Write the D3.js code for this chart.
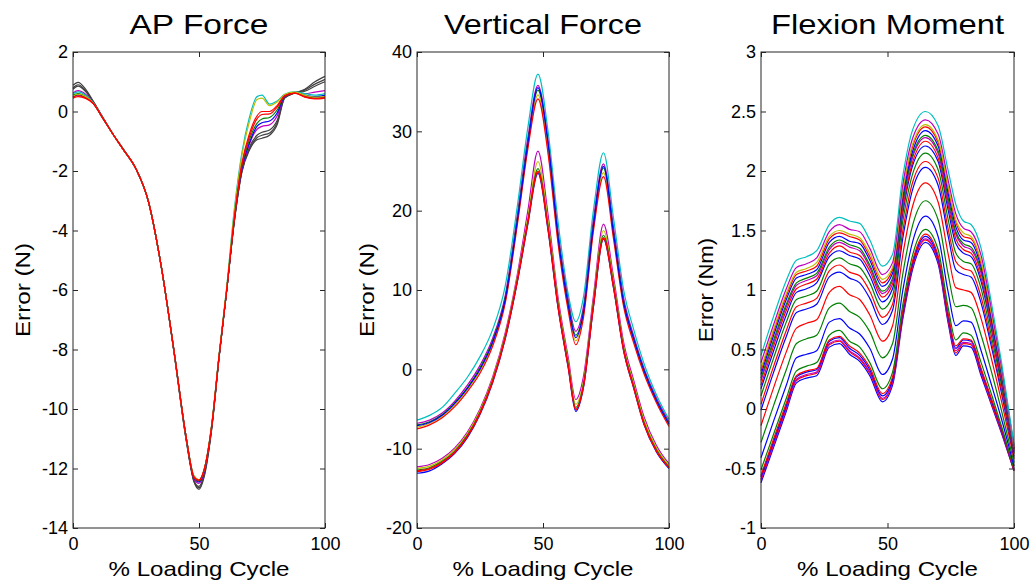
<!DOCTYPE html>
<html>
<head>
<meta charset="utf-8">
<script src="https://cdn.jsdelivr.net/npm/d3@7"></script>
<style>
  body { margin: 0; background: #fff; }
  text { font-family: "Liberation Sans", Arial, sans-serif; fill: #000; }
</style>
</head>
<body>
<svg id="fig" width="1032" height="580"></svg>
<script>
// ---- data ----
var titles = ["AP Force", "Vertical Force", "Flexion Moment"];
var yLabels = ["Error (N)", "Error (N)", "Error (Nm)"];
var xTicks = [0, 50, 100];

var apTicks = [2, 0, -2, -4, -6, -8, -10, -12, -14];
var vfTicks = [40, 30, 20, 10, 0, -10, -20];
var fmTicks = [3, 2.5, 2, 1.5, 1, 0.5, 0, -0.5, -1];

// AP force: % cycle positions and the error curves
var apX = [0, 2, 5, 8, 12, 16, 20, 25, 30, 35, 40, 45, 48, 50, 52, 55, 58, 61, 64, 67, 70, 73, 75, 78, 81, 84, 88, 92, 96, 100];
var apLines = [
  [0.88, 0.98, 0.75, 0.35, -0.22, -0.78, -1.28, -1.93, -3.05, -5.2, -8.05, -11.1, -12.45, -12.7, -12.3, -10.7, -8.25, -6.0, -3.7, -2.05, -1.3, -0.95, -0.9, -0.8, -0.45, 0.45, 0.62, 0.75, 1.0, 1.18],
  [0.8, 0.9, 0.7, 0.33, -0.23, -0.78, -1.28, -1.93, -3.05, -5.2, -8.04, -11.08, -12.42, -12.65, -12.25, -10.68, -8.23, -6.0, -3.7, -2.02, -1.25, -0.88, -0.8, -0.72, -0.38, 0.46, 0.62, 0.72, 0.92, 1.08],
  [0.75, 0.85, 0.67, 0.32, -0.23, -0.78, -1.28, -1.93, -3.05, -5.2, -8.03, -11.05, -12.4, -12.6, -12.2, -10.65, -8.22, -6.0, -3.7, -2.0, -1.2, -0.8, -0.7, -0.62, -0.3, 0.48, 0.63, 0.68, 0.85, 1.0],
  [0.62, 0.7, 0.58, 0.3, -0.24, -0.78, -1.28, -1.93, -3.05, -5.2, -8.0, -11.0, -12.35, -12.5, -12.15, -10.6, -8.2, -6.0, -3.65, -1.95, -1.1, -0.6, -0.5, -0.45, -0.15, 0.5, 0.63, 0.6, 0.65, 0.7],
  [0.5, 0.56, 0.48, 0.28, -0.25, -0.78, -1.28, -1.93, -3.05, -5.2, -8.0, -11.0, -12.3, -12.45, -12.1, -10.6, -8.2, -6.0, -3.6, -1.9, -1.05, -0.5, -0.38, -0.32, -0.05, 0.52, 0.64, 0.55, 0.5, 0.55],
  [0.55, 0.6, 0.5, 0.28, -0.25, -0.78, -1.28, -1.93, -3.05, -5.2, -8.0, -11.0, -12.3, -12.42, -12.08, -10.6, -8.2, -6.0, -3.6, -1.85, -0.95, -0.4, -0.25, -0.2, 0.05, 0.52, 0.63, 0.5, 0.45, 0.5],
  [0.6, 0.66, 0.55, 0.3, -0.24, -0.78, -1.28, -1.93, -3.05, -5.2, -8.0, -11.0, -12.25, -12.38, -12.05, -10.55, -8.15, -5.9, -3.3, -1.4, -0.2, 0.5, 0.55, 0.25, 0.35, 0.58, 0.66, 0.6, 0.55, 0.6],
  [0.52, 0.58, 0.5, 0.28, -0.25, -0.78, -1.28, -1.93, -3.05, -5.2, -8.0, -11.0, -12.25, -12.38, -12.05, -10.55, -8.15, -5.92, -3.4, -1.5, -0.35, 0.4, 0.45, 0.2, 0.32, 0.57, 0.65, 0.55, 0.48, 0.5],
  [0.48, 0.53, 0.46, 0.27, -0.25, -0.78, -1.28, -1.93, -3.05, -5.2, -8.0, -11.0, -12.28, -12.4, -12.06, -10.6, -8.2, -6.0, -3.6, -1.75, -0.75, -0.15, 0.0, 0.0, 0.2, 0.53, 0.62, 0.5, 0.44, 0.48],
  [0.45, 0.5, 0.44, 0.27, -0.25, -0.78, -1.28, -1.93, -3.05, -5.2, -8.0, -11.0, -12.3, -12.4, -12.05, -10.6, -8.2, -6.0, -3.6, -1.8, -0.85, -0.25, -0.1, -0.08, 0.15, 0.52, 0.62, 0.48, 0.42, 0.45]
];

// Vertical force: upper group then lower group
var vfX = [0, 5, 10, 15, 20, 25, 30, 35, 40, 44, 48, 52, 56, 60, 63, 66, 70, 74, 78, 82, 86, 90, 95, 100];
var vfLines = [
  [-6.4, -5.8, -4.8, -3.0, -1.0, 1.6, 5.0, 10.5, 21.0, 30.5, 37.2, 30.0, 18.5, 9.5, 6.0, 9.0, 20.0, 27.3, 19.0, 10.0, 5.0, 0.8, -3.2, -6.3],
  [-6.8, -6.4, -5.5, -4.0, -2.0, 0.5, 3.9, 9.3, 19.8, 29.2, 35.8, 28.8, 17.2, 8.8, 4.8, 7.8, 18.8, 25.9, 17.8, 9.0, 4.2, 0.2, -3.6, -6.6],
  [-7.0, -6.6, -5.7, -4.2, -2.3, 0.2, 3.6, 9.0, 19.5, 28.7, 35.2, 28.3, 16.8, 8.4, 4.3, 7.3, 18.3, 25.4, 17.3, 8.6, 3.9, 0.0, -3.8, -6.8],
  [-7.3, -6.8, -5.9, -4.5, -2.6, -0.2, 3.2, 8.6, 19.0, 28.2, 34.6, 27.6, 16.2, 7.8, 3.6, 6.8, 17.8, 24.8, 16.8, 8.2, 3.6, -0.3, -4.0, -7.0],
  [-7.5, -7.0, -6.1, -4.7, -2.8, -0.5, 2.9, 8.3, 18.6, 27.8, 34.1, 27.2, 15.8, 7.4, 3.1, 6.4, 17.4, 24.3, 16.4, 7.9, 3.3, -0.5, -4.2, -7.2],
  [-7.1, -6.7, -5.8, -4.3, -2.4, 0.0, 3.4, 8.8, 19.2, 28.5, 35.5, 28.5, 16.6, 8.1, 4.0, 7.1, 18.1, 25.6, 17.1, 8.4, 3.8, -0.1, -3.9, -6.9],
  [-12.3, -12.0, -11.2, -9.9, -7.9, -5.0, -1.0, 4.6, 12.3, 20.0, 27.5, 19.5, 9.0, 1.5, -3.8, -1.0, 9.2, 18.3, 11.6, 3.4, -1.4, -5.9, -9.6, -11.9],
  [-12.5, -12.2, -11.4, -10.1, -8.1, -5.2, -1.2, 4.3, 11.9, 19.2, 26.2, 18.7, 8.5, 1.0, -4.4, -1.6, 8.6, 17.5, 11.0, 2.9, -1.8, -6.3, -9.9, -12.1],
  [-12.7, -12.4, -11.6, -10.3, -8.3, -5.4, -1.4, 4.1, 11.6, 18.7, 25.3, 18.0, 8.1, 0.6, -4.8, -2.0, 8.2, 16.9, 10.6, 2.6, -2.1, -6.6, -10.1, -12.3],
  [-13.1, -12.8, -11.9, -10.6, -8.6, -5.7, -1.7, 3.8, 11.3, 18.3, 24.7, 17.5, 7.7, 0.2, -5.3, -2.4, 7.8, 16.4, 10.2, 2.3, -2.4, -6.9, -10.4, -12.5],
  [-12.9, -12.6, -11.8, -10.5, -8.5, -5.6, -1.6, 3.9, 11.4, 18.5, 25.0, 17.8, 7.9, 0.4, -5.0, -2.2, 8.0, 16.6, 10.4, 2.4, -2.3, -6.8, -10.3, -12.4],
  [-12.8, -12.5, -11.7, -10.4, -8.4, -5.5, -1.5, 4.0, 11.5, 18.6, 24.9, 17.7, 7.8, 0.3, -5.1, -2.3, 7.9, 16.5, 10.3, 2.4, -2.3, -6.8, -10.3, -12.4]
];

// Flexion moment: from lowest curve to highest
var fmX = [0, 5, 10, 14, 18, 22, 27, 31, 35, 39, 43, 48, 52, 56, 60, 65, 70, 74, 77, 80, 83, 87, 91, 95, 100];
var fmLines = [
  [-0.62, -0.32, -0.02, 0.22, 0.26, 0.28, 0.52, 0.55, 0.46, 0.40, 0.28, 0.06, 0.20, 0.75, 1.18, 1.40, 1.22, 0.72, 0.45, 0.53, 0.52, 0.28, 0.04, -0.20, -0.52],
  [-0.60, -0.30, 0.00, 0.24, 0.28, 0.30, 0.54, 0.57, 0.48, 0.42, 0.30, 0.08, 0.22, 0.77, 1.20, 1.42, 1.24, 0.74, 0.47, 0.55, 0.54, 0.30, 0.05, -0.19, -0.52],
  [-0.59, -0.29, 0.01, 0.25, 0.29, 0.31, 0.55, 0.58, 0.49, 0.43, 0.31, 0.09, 0.23, 0.79, 1.22, 1.43, 1.25, 0.76, 0.49, 0.56, 0.55, 0.31, 0.07, -0.18, -0.51],
  [-0.57, -0.27, 0.03, 0.27, 0.31, 0.33, 0.57, 0.60, 0.51, 0.45, 0.33, 0.11, 0.25, 0.80, 1.23, 1.45, 1.27, 0.78, 0.51, 0.58, 0.57, 0.33, 0.08, -0.17, -0.51],
  [-0.56, -0.25, 0.05, 0.28, 0.32, 0.34, 0.58, 0.61, 0.53, 0.47, 0.35, 0.13, 0.27, 0.82, 1.25, 1.47, 1.29, 0.80, 0.53, 0.59, 0.58, 0.34, 0.09, -0.16, -0.51],
  [-0.51, -0.21, 0.09, 0.32, 0.36, 0.39, 0.62, 0.66, 0.57, 0.52, 0.39, 0.17, 0.31, 0.87, 1.30, 1.51, 1.34, 0.85, 0.58, 0.64, 0.62, 0.39, 0.13, -0.14, -0.50],
  [-0.41, -0.10, 0.20, 0.43, 0.46, 0.49, 0.73, 0.76, 0.68, 0.63, 0.51, 0.29, 0.42, 0.99, 1.41, 1.62, 1.45, 0.98, 0.70, 0.74, 0.73, 0.49, 0.21, -0.08, -0.48],
  [-0.28, 0.03, 0.33, 0.55, 0.59, 0.62, 0.85, 0.89, 0.82, 0.77, 0.65, 0.43, 0.55, 1.13, 1.55, 1.75, 1.59, 1.13, 0.86, 0.87, 0.85, 0.62, 0.32, -0.01, -0.45],
  [-0.14, 0.18, 0.48, 0.68, 0.72, 0.75, 0.98, 1.03, 0.96, 0.92, 0.79, 0.57, 0.70, 1.29, 1.71, 1.90, 1.74, 1.30, 1.02, 1.00, 0.98, 0.76, 0.43, 0.07, -0.42],
  [-0.01, 0.31, 0.61, 0.81, 0.84, 0.88, 1.11, 1.15, 1.10, 1.06, 0.93, 0.71, 0.83, 1.43, 1.85, 2.03, 1.88, 1.45, 1.17, 1.13, 1.11, 0.89, 0.53, 0.14, -0.40],
  [0.04, 0.36, 0.66, 0.86, 0.89, 0.93, 1.16, 1.21, 1.15, 1.12, 0.99, 0.77, 0.88, 1.49, 1.91, 2.08, 1.94, 1.51, 1.24, 1.18, 1.16, 0.94, 0.57, 0.17, -0.38],
  [0.11, 0.43, 0.73, 0.92, 0.95, 0.99, 1.22, 1.27, 1.22, 1.19, 1.06, 0.84, 0.95, 1.57, 1.98, 2.15, 2.01, 1.59, 1.31, 1.24, 1.22, 1.01, 0.62, 0.21, -0.37],
  [0.17, 0.49, 0.79, 0.98, 1.01, 1.06, 1.28, 1.33, 1.29, 1.26, 1.12, 0.90, 1.01, 1.64, 2.05, 2.21, 2.08, 1.67, 1.39, 1.31, 1.28, 1.07, 0.68, 0.24, -0.36],
  [0.20, 0.53, 0.83, 1.01, 1.05, 1.09, 1.31, 1.37, 1.32, 1.29, 1.16, 0.94, 1.05, 1.67, 2.08, 2.25, 2.11, 1.71, 1.43, 1.34, 1.31, 1.10, 0.70, 0.26, -0.35],
  [0.24, 0.56, 0.86, 1.04, 1.08, 1.12, 1.34, 1.40, 1.36, 1.33, 1.19, 0.97, 1.08, 1.71, 2.12, 2.28, 2.15, 1.74, 1.47, 1.37, 1.34, 1.14, 0.73, 0.28, -0.34],
  [0.26, 0.58, 0.88, 1.06, 1.10, 1.14, 1.36, 1.42, 1.38, 1.35, 1.21, 0.99, 1.10, 1.73, 2.14, 2.30, 2.17, 1.77, 1.49, 1.39, 1.36, 1.16, 0.75, 0.29, -0.34],
  [0.29, 0.62, 0.92, 1.10, 1.13, 1.17, 1.40, 1.45, 1.41, 1.39, 1.25, 1.03, 1.14, 1.77, 2.17, 2.34, 2.21, 1.81, 1.53, 1.42, 1.40, 1.19, 0.77, 0.31, -0.33],
  [0.32, 0.65, 0.95, 1.13, 1.16, 1.20, 1.43, 1.48, 1.45, 1.42, 1.28, 1.06, 1.17, 1.81, 2.21, 2.37, 2.24, 1.85, 1.57, 1.45, 1.43, 1.22, 0.80, 0.33, -0.33],
  [0.34, 0.67, 0.97, 1.15, 1.18, 1.23, 1.45, 1.50, 1.47, 1.44, 1.31, 1.09, 1.19, 1.83, 2.23, 2.39, 2.26, 1.87, 1.59, 1.48, 1.45, 1.24, 0.81, 0.34, -0.32],
  [0.39, 0.71, 1.01, 1.19, 1.22, 1.27, 1.49, 1.55, 1.51, 1.49, 1.35, 1.13, 1.23, 1.88, 2.28, 2.43, 2.31, 1.92, 1.64, 1.52, 1.49, 1.29, 0.85, 0.36, -0.31],
  [0.45, 0.78, 1.08, 1.25, 1.28, 1.33, 1.55, 1.61, 1.58, 1.56, 1.42, 1.20, 1.30, 1.95, 2.35, 2.50, 2.38, 2.00, 1.72, 1.58, 1.55, 1.35, 0.90, 0.40, -0.30]
];

// old matlab line colours
var mb = "#0000ff", mg = "#008000", mr = "#ff0000", mc = "#00bfbf",
    mm = "#bf00bf", my = "#bfbf00", mk = "#404040";

var panels = [
  {left: 73, width: 252, yDomain: [-14, 2], yTicks: apTicks, xs: apX, lines: apLines,
   colors: [mk, mk, mk, mm, mb, mg, mc, my, mr, mr], titleLen: 139, yLabLen: 94},
  {left: 417, width: 252, yDomain: [-20, 40], yTicks: vfTicks, xs: vfX, lines: vfLines,
   colors: [mc, mm, mg, my, mr, mb, mm, my, mg, mb, mr, mr], titleLen: 198, yLabLen: 94},
  {left: 761, width: 253, yDomain: [-1, 3], yTicks: fmTicks, xs: fmX, lines: fmLines,
   colors: [mb, mr, mm, mb, mr, mg, mb, mg, mr, mb, mr, mg, mb, mr, mm, mg, mb, mr, my, mm, mc],
   titleLen: 233, yLabLen: 104}
];

var svg = d3.select("#fig");
var axTop = 52, axBottom = 528;
var tickLen = 5;

function drawPanel(p, k) {
    var x = d3.scaleLinear().domain([0, 100]).range([p.left, p.left + p.width]);
    var y = d3.scaleLinear().domain(p.yDomain).range([axBottom, axTop]);
    var g = svg.append("g");

    // curves
    var line = d3.line()
        .x((d, i) => x(p.xs[i]))
        .y(d => y(d))
        .curve(d3.curveMonotoneX);

    g.append("g").selectAll("path")
        .data(p.lines)
        .enter().append("path")
        .attr("d", line)
        .attr("fill", "none")
        .attr("stroke", (d, i) => p.colors[i])
        .attr("stroke-width", 1.2);

    // axes, ticks pointing inward like matlab
    var fmt = d => String(d);
    var left = g.append("g")
        .attr("transform", "translate(" + p.left + ",0)")
        .call(d3.axisLeft(y).tickValues(p.yTicks).tickSize(-tickLen).tickPadding(5).tickFormat(fmt));
    g.append("g")
        .attr("transform", "translate(" + (p.left + p.width) + ",0)")
        .call(d3.axisRight(y).tickValues(p.yTicks).tickSize(-tickLen).tickFormat(""));
    g.append("g")
        .attr("transform", "translate(0," + axBottom + ")")
        .call(d3.axisBottom(x).tickValues(xTicks).tickSize(-tickLen).tickPadding(9).tickFormat(fmt));
    g.append("g")
        .attr("transform", "translate(0," + axTop + ")")
        .call(d3.axisTop(x).tickValues(xTicks).tickSize(-tickLen).tickFormat(""));

    g.selectAll(".domain").remove();
    g.selectAll(".tick line").attr("stroke", "#262626");
    g.selectAll(".tick text")
        .attr("font-family", "Liberation Sans, Arial, sans-serif")
        .attr("font-size", 18)
        .attr("fill", "#000");

    g.append("rect")
        .attr("x", p.left).attr("y", axTop)
        .attr("width", p.width).attr("height", axBottom - axTop)
        .attr("fill", "none")
        .attr("stroke", "#262626");

    var cx = p.left + p.width / 2;

    // title
    g.append("text")
        .attr("x", cx).attr("y", 34)
        .attr("text-anchor", "middle")
        .attr("font-size", 28)
        .attr("textLength", p.titleLen)
        .attr("lengthAdjust", "spacingAndGlyphs")
        .text(titles[k]);

    // x label
    g.append("text")
        .attr("x", cx).attr("y", 576)
        .attr("text-anchor", "middle")
        .attr("font-size", 21)
        .attr("textLength", 181)
        .attr("lengthAdjust", "spacingAndGlyphs")
        .text("% Loading Cycle");

    // y label sits left of the widest tick label
    var minX = d3.min(left.selectAll(".tick text").nodes(), n => n.getBBox().x);
    var ly = p.left + minX - 12;
    g.append("text")
        .attr("transform", "translate(" + ly + "," + ((axTop + axBottom) / 2) + ") rotate(-90)")
        .attr("text-anchor", "middle")
        .attr("font-size", 21)
        .attr("textLength", p.yLabLen)
        .attr("lengthAdjust", "spacingAndGlyphs")
        .text(yLabels[k]);
}

panels.forEach(drawPanel);
</script>
</body>
</html>
